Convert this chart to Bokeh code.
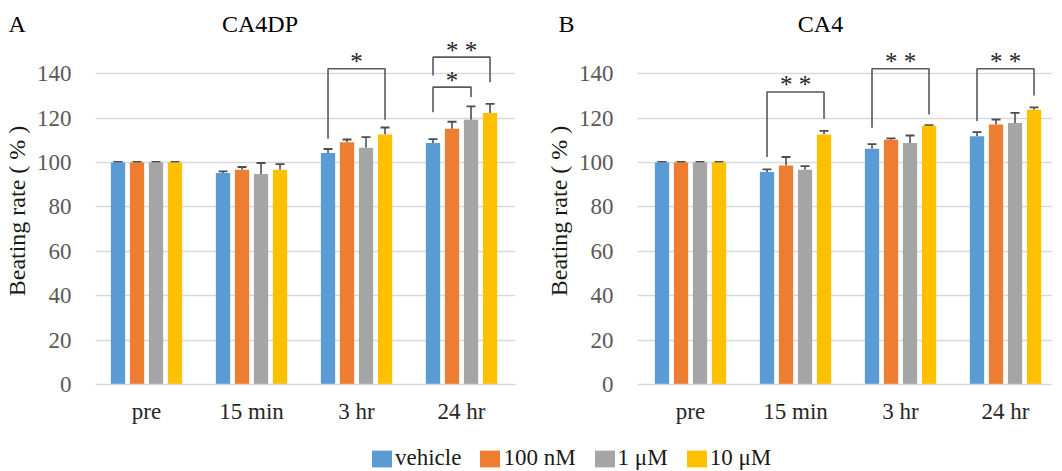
from bokeh.plotting import figure
from bokeh.layouts import column, row
from bokeh.models import (Range1d, FixedTicker, Whisker, TeeHead, ColumnDataSource,
                          Label, Legend, LegendItem)
from bokeh.core.properties import value
from bokeh.embed import file_html
from bokeh.resources import INLINE

# ---------------- data ----------------
timepoints = ["pre", "15 min", "3 hr", "24 hr"]
series = ["vehicle", "100 nM", "1 μM", "10 μM"]
colors = ["#5B9BD5", "#ED7D31", "#A5A5A5", "#FFC000"]
y_ticks = [0, 20, 40, 60, 80, 100, 120, 140]
panel_letters = ["A", "B"]
panel_titles = ["CA4DP", "CA4"]

# Panel A: CA4DP (mean, upper SE)
a_vehicle = [100, 95.3, 104.3, 108.8]
a_100nM = [100, 96.8, 109.2, 115.2]
a_1uM = [100, 94.8, 106.7, 119.3]
a_10uM = [100, 96.8, 112.7, 122.3]
a_vehicle_err = [0.3, 0.7, 1.8, 1.8]
a_100nM_err = [0.3, 1.2, 1.2, 3.2]
a_1uM_err = [0.3, 5.0, 4.8, 6.0]
a_10uM_err = [0.3, 2.5, 3.1, 4.1]

# Panel B: CA4
b_vehicle = [100, 95.7, 106.2, 111.8]
b_100nM = [100, 98.7, 110.3, 117.2]
b_1uM = [100, 96.8, 108.8, 117.8]
b_10uM = [100, 112.7, 116.6, 123.8]
b_vehicle_err = [0.3, 1.2, 2.1, 1.9]
b_100nM_err = [0.3, 3.8, 0.6, 2.2]
b_1uM_err = [0.3, 1.6, 3.4, 4.6]
b_10uM_err = [0.3, 1.6, 0.3, 1.1]

# significance brackets: (timepoint index, series from, series to, top, left leg end, right leg end, label)
a_brackets = [
    (2, 0, 3, 142.3, 110.7, 119.3, "*"),
    (3, 0, 2, 134.0, 122.7, 129.5, "*"),
    (3, 0, 3, 147.5, 139.2, 136.2, "* *"),
]
b_brackets = [
    (1, 0, 3, 131.8, 102.5, 119.7, "* *"),
    (2, 0, 3, 142.3, 115.7, 121.7, "* *"),
    (3, 0, 3, 142.3, 118.7, 130.2, "* *"),
]

# ---------------- style ----------------
FONT = "Liberation Serif"
STEP = 0.181
BAR_W = 0.136
GRID = "#D9D9D9"
ERR = "#4D4D4D"
BRK = "#595959"
FRAME_H = 347
Y_MAX = 156.35
PX_X = 105.0


def make_panel(means, errs, brackets, x0, frame_w, border_left, border_right):
    p = figure(frame_width=frame_w, frame_height=FRAME_H,
               x_range=Range1d(x0, x0 + frame_w / PX_X), y_range=Range1d(0, Y_MAX),
               output_backend="svg", toolbar_location=None,
               min_border_left=border_left, min_border_right=border_right,
               min_border_top=0, min_border_bottom=36,
               outline_line_color=None, background_fill_color="white")
    # grid
    p.xgrid.grid_line_color = None
    p.ygrid.ticker = FixedTicker(ticks=y_ticks)
    p.ygrid.grid_line_color = GRID
    p.ygrid.grid_line_width = 1.3
    # y axis
    p.yaxis.ticker = FixedTicker(ticks=y_ticks)
    p.yaxis.axis_line_color = None
    p.yaxis.major_tick_line_color = None
    p.yaxis.minor_tick_line_color = None
    p.yaxis.major_label_text_font = FONT
    p.yaxis.major_label_text_font_size = "23px"
    p.yaxis.major_label_text_color = "#595959"
    p.yaxis.major_label_standoff = 18
    p.yaxis.axis_label = "Beating rate ( % )"
    p.yaxis.axis_label_text_font = FONT
    p.yaxis.axis_label_text_font_size = "24px"
    p.yaxis.axis_label_text_font_style = "normal"
    p.yaxis.axis_label_text_color = "#1a1a1a"
    p.yaxis.axis_label_standoff = 4
    # x axis
    p.xaxis.ticker = FixedTicker(ticks=list(range(len(timepoints))))
    p.xaxis.major_label_overrides = {i: t for i, t in enumerate(timepoints)}
    p.xaxis.axis_line_color = GRID
    p.xaxis.axis_line_width = 1.5
    p.xaxis.major_tick_line_color = None
    p.xaxis.minor_tick_line_color = None
    p.xaxis.major_label_text_font = FONT
    p.xaxis.major_label_text_font_size = "23px"
    p.xaxis.major_label_text_color = "#262626"
    p.xaxis.major_label_standoff = 8

    for k, (m, e) in enumerate(zip(means, errs)):
        xs = [g + (k - 1.5) * STEP for g in range(len(timepoints))]
        src = ColumnDataSource(dict(x=xs, top=m, upper=[a + b for a, b in zip(m, e)]))
        p.vbar(x="x", top="top", width=BAR_W, source=src, fill_color=colors[k],
               line_color=None)
        w = Whisker(source=src, base="x", upper="upper", lower="top", dimension="height",
                    line_color=ERR, line_width=1.6,
                    upper_head=TeeHead(size=9, line_color=ERR, line_width=1.8),
                    lower_head=None)
        p.add_layout(w)

    for (g, i, j, top, lb, rb, lab) in brackets:
        xa = g + (i - 1.5) * STEP
        xb = g + (j - 1.5) * STEP
        p.line(x=[xa, xa, xb, xb], y=[lb, top, top, rb], line_color=BRK, line_width=1.6)
        p.text(x=[(xa + xb) / 2], y=[top], text=[lab], text_align="center",
               text_baseline="middle", y_offset=-7, text_font=value(FONT),
               text_font_size="25px", text_color="#262626")
    return p


pA = make_panel([a_vehicle, a_100nM, a_1uM, a_10uM],
                [a_vehicle_err, a_100nM_err, a_1uM_err, a_10uM_err], a_brackets,
                -0.486, 420, 95, 15)
pB = make_panel([b_vehicle, b_100nM, b_1uM, b_10uM],
                [b_vehicle_err, b_100nM_err, b_1uM_err, b_10uM_err], b_brackets,
                -0.505, 415, 107, 0)

# title strip (pixel coordinates, y measured from the top)
TW, TH = 1052, 37
pT = figure(width=TW, height=TH, x_range=Range1d(0, TW), y_range=Range1d(TH, 0),
            output_backend="svg", toolbar_location=None, min_border=0,
            outline_line_color=None)
pT.axis.visible = False
pT.grid.visible = False
for lx, tx, letter, title in zip([8, 558], [259.5, 820], panel_letters, panel_titles):
    pT.add_layout(Label(x=lx, y=23, text=letter, text_align="left",
                        text_baseline="middle",
                        text_font=FONT, text_font_size="24px", text_color="black"))
    pT.add_layout(Label(x=tx, y=23, text=title, text_align="center",
                        text_baseline="middle",
                        text_font=FONT, text_font_size="24px", text_color="black"))

# legend strip
pL = figure(width=TW, height=50, x_range=Range1d(0, 1), y_range=Range1d(0, 1),
            output_backend="svg", toolbar_location=None, min_border=0,
            outline_line_color=None)
pL.axis.visible = False
pL.grid.visible = False
leg_r = [pL.vbar(x=[0.5], top=[0], bottom=[0], width=0.0, fill_color=c, line_color=None)
         for c in colors]
legend = Legend(items=[LegendItem(label=s, renderers=[r]) for s, r in zip(series, leg_r)],
                orientation="horizontal", location=(369, 5),
                glyph_width=25, glyph_height=21, label_standoff=1, spacing=16,
                padding=0, margin=0, border_line_color=None, background_fill_color=None,
                label_text_font=FONT, label_text_font_size="23px",
                label_text_color="#1a1a1a")
pL.add_layout(legend)

layout = column(pT, row(pA, pB), pL)
open("out.html", "w").write(file_html(layout, INLINE))
